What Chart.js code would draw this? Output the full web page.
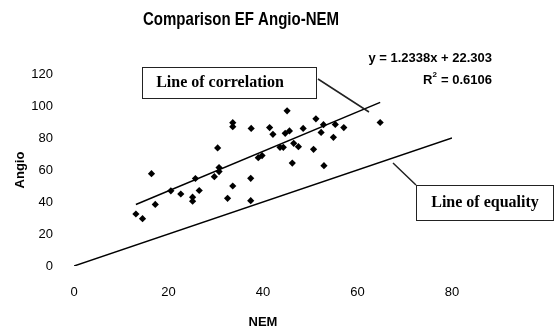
<!DOCTYPE html>
<html>
<head>
<meta charset="utf-8">
<script src="https://cdn.jsdelivr.net/npm/chart.js@4.4.1/dist/chart.umd.min.js"></script>
<style>
  html, body { margin: 0; padding: 0; background: #fff; }
</style>
</head>
<body>
<canvas id="myChart" width="556" height="332"></canvas>
<script>
// EF values (NEM on x, Angio on y)
const nem   = [13.1, 14.5, 16.4, 17.2, 20.5, 22.6, 25.1, 25.1, 25.7, 26.5, 29.7, 30.4, 30.7, 30.7, 32.5,
               33.6, 33.6, 33.6, 37.4, 37.4, 37.5, 39.0, 39.8, 41.4, 42.1, 43.6, 44.3, 44.7, 45.1, 45.6,
               46.2, 46.5, 47.5, 48.5, 50.7, 51.2, 52.3, 52.8, 52.9, 54.9, 55.3, 57.1, 64.8];
const angio = [32.5, 29.6, 57.7, 38.5, 47.0, 45.0, 40.5, 43.0, 54.7, 47.2, 55.8, 73.8, 61.5, 59.0, 42.3,
               50.0, 89.6, 87.1, 54.8, 40.8, 86.0, 67.7, 69.0, 86.5, 82.3, 74.2, 74.2, 82.9, 97.0, 84.4,
               64.3, 76.7, 74.6, 86.0, 72.9, 92.0, 83.5, 88.3, 62.7, 80.4, 88.5, 86.5, 89.7];

const xTicks = [0, 20, 40, 60, 80];
const yTicks = [0, 20, 40, 60, 80, 100, 120];

// linear trend shown on the chart
const slope = 1.2338;
const intercept = 22.303;
const rSquared = 0.6106;
const trendFrom = 13.1;
const trendTo = 64.8;
const equalityTo = 80;

const points = nem.map((x, i) => ({ x: x, y: angio[i] }));
const trendLine = [trendFrom, trendTo].map(x => ({ x: x, y: slope * x + intercept }));
const equalityLine = [{ x: 0, y: 0 }, { x: equalityTo, y: equalityTo }];

const sans = '"Liberation Sans", Arial, sans-serif';
const serif = '"Liberation Serif", "Times New Roman", serif';

// title, equation and the two call-out boxes
const notes = {
  id: 'notes',
  afterDraw(chart) {
    const c = chart.ctx;
    c.save();
    c.fillStyle = '#000';
    c.textBaseline = 'middle';

    // title is drawn a bit condensed, like the original
    c.font = 'bold 19px ' + sans;
    c.textAlign = 'center';
    const title = 'Comparison EF Angio-NEM';
    const sx = 196 / c.measureText(title).width;
    c.save();
    c.translate(241, 20);
    c.scale(sx, 1);
    c.fillText(title, 0, 0);
    c.restore();

    c.font = 'bold 13px ' + sans;
    c.textAlign = 'right';
    c.fillText('y = ' + slope + 'x + ' + intercept, 492, 58);
    const rest = ' = ' + rSquared;
    c.fillText(rest, 492, 80);
    const restW = c.measureText(rest).width;
    c.fillText('R', 492 - restW - 5, 80);
    c.font = 'bold 8px ' + sans;
    c.textAlign = 'left';
    c.fillText('2', 492 - restW - 5, 75);

    c.strokeStyle = '#222';
    c.lineWidth = 1;
    c.strokeRect(142.5, 67.5, 174, 31);
    c.strokeRect(416.5, 185.5, 137, 35);

    c.font = 'bold 16px ' + serif;
    c.textAlign = 'center';
    c.fillText('Line of correlation', 220, 83);
    c.fillText('Line of equality', 485, 203);

    c.lineWidth = 1.5;
    c.beginPath();
    c.moveTo(318, 79);
    c.lineTo(369, 112);
    c.moveTo(393, 163);
    c.lineTo(416, 185);
    c.stroke();
    c.restore();
  }
};

const ctx = document.getElementById('myChart').getContext('2d');

const myChart = new Chart(ctx, {
  type: 'scatter',
  data: {
    datasets: [{
      label: 'EF',
      data: points,
      pointStyle: 'rectRot',
      pointRadius: 3.6,
      backgroundColor: '#000',
      borderColor: '#000',
      borderWidth: 0
    }, {
      label: 'Line of correlation',
      data: trendLine,
      showLine: true,
      pointRadius: 0,
      borderColor: '#000',
      borderWidth: 1.5
    }, {
      label: 'Line of equality',
      data: equalityLine,
      showLine: true,
      pointRadius: 0,
      borderColor: '#000',
      borderWidth: 1.5
    }]
  },
  options: {
    responsive: false,
    animation: false,
    layout: { padding: { left: 0, top: 74, right: 104, bottom: 0 } },
    plugins: {
      legend: { display: false },
      tooltip: { enabled: false }
    },
    scales: {
      x: {
        type: 'linear',
        min: 0,
        max: 80,
        afterBuildTicks: s => { s.ticks = xTicks.map(v => ({ value: v })); },
        afterFit: s => { s.height = 66; },
        grid: { display: false, drawTicks: false },
        border: { display: false },
        ticks: { color: '#000', padding: 19, font: { family: sans, size: 13 } },
        title: { display: true, text: 'NEM', color: '#000', padding: { top: 0, bottom: 2 }, font: { family: sans, size: 13, weight: 'bold' } }
      },
      y: {
        type: 'linear',
        min: 0,
        max: 120,
        afterBuildTicks: s => { s.ticks = yTicks.map(v => ({ value: v })); },
        afterFit: s => { s.width = 74; },
        grid: { display: false, drawTicks: false },
        border: { display: false },
        ticks: { color: '#000', padding: 21, font: { family: sans, size: 13 } },
        title: { display: true, text: 'Angio', color: '#000', padding: { top: 13, bottom: 0 }, font: { family: sans, size: 13, weight: 'bold' } }
      }
    }
  },
  plugins: [notes]
});
</script>
</body>
</html>
